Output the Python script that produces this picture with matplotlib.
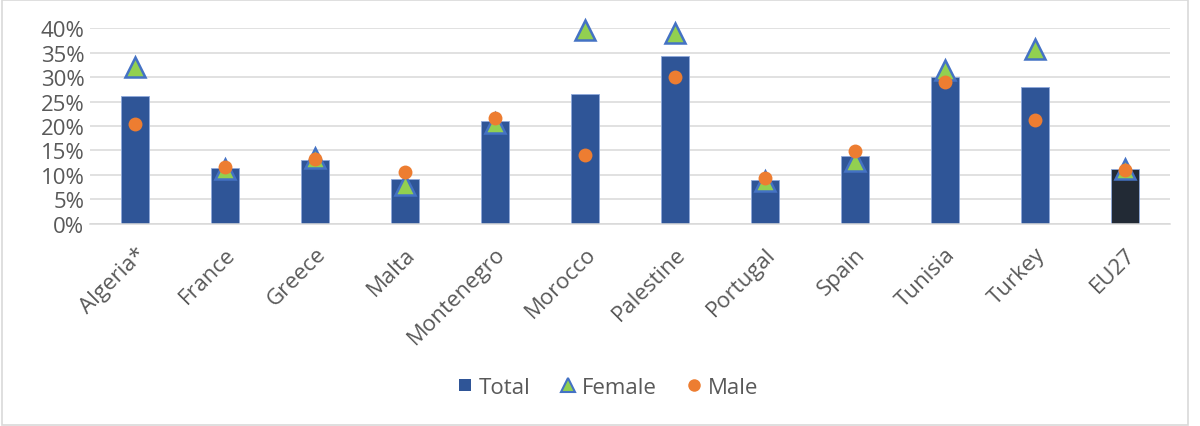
import matplotlib.pyplot as plt
import numpy as np
from matplotlib.patches import Rectangle
from matplotlib.lines import Line2D
from matplotlib.ticker import PercentFormatter

countries = ['Algeria*', 'France', 'Greece', 'Malta', 'Montenegro', 'Morocco',
             'Palestine', 'Portugal', 'Spain', 'Tunisia', 'Turkey', 'EU27']
total = [26.1, 11.3, 13.1, 9.1, 21.0, 26.5, 34.4, 9.0, 13.8, 30.1, 28.1, 11.2]
female = [32.1, 11.1, 13.4, 7.9, 20.6, 39.7, 39.1, 8.8, 12.8, 31.5, 35.7, 11.1]
male = [20.4, 11.7, 13.2, 10.5, 21.6, 14.0, 30.1, 9.3, 14.9, 29.1, 21.3, 11.0]

plt.rcParams['font.family'] = ['Open Sans', 'DejaVu Sans']
txt = '#595959'

fig = plt.figure(figsize=(12, 4.27), dpi=100)
ax = fig.add_axes([0.075, 0.474, 0.9, 0.457])

x = np.arange(len(countries))
colors = ['#2F5597'] * (len(countries) - 1) + ['#222A35']
ax.bar(x, total, width=0.32, color=colors, edgecolor='#8FAADC', linewidth=0.6,
       zorder=2)
ax.plot(x, female, linestyle='none', marker='^', markersize=14,
        markerfacecolor='#92D050', markeredgecolor='#4472C4', markeredgewidth=1.8,
        zorder=3, clip_on=False)
ax.plot(x, male, linestyle='none', marker='o', markersize=10,
        markerfacecolor='#ED7D31', markeredgewidth=0, zorder=4, clip_on=False)

ax.set_xlim(-0.5, len(countries) - 0.5)
ax.set_ylim(0, 40)
ax.set_yticks(np.arange(0, 41, 5))
ax.yaxis.set_major_formatter(PercentFormatter(decimals=0))
ax.grid(axis='y', color='#D9D9D9', linewidth=1.1, zorder=0)
ax.set_axisbelow(True)
for s in ['top', 'right', 'left']:
    ax.spines[s].set_visible(False)
ax.spines['bottom'].set_color('#D9D9D9')
ax.spines['bottom'].set_linewidth(1.1)
ax.tick_params(length=0, labelsize=16, colors=txt)
ax.tick_params(axis='y', pad=4)
ax.tick_params(axis='x', pad=14)
ax.set_xticks(x)
ax.set_xticklabels(countries, rotation=45, ha='right', rotation_mode='anchor')

handles = [
    Line2D([], [], linestyle='none', marker='s', markersize=9,
           markerfacecolor='#2F5597', markeredgewidth=0),
    Line2D([], [], linestyle='none', marker='^', markersize=10,
           markerfacecolor='#92D050', markeredgecolor='#4472C4', markeredgewidth=1.5),
    Line2D([], [], linestyle='none', marker='o', markersize=9,
           markerfacecolor='#ED7D31', markeredgewidth=0),
]
fig.legend(handles, ['Total', 'Female', 'Male'], loc='center',
           bbox_to_anchor=(0.505, 0.091), ncol=3, frameon=False,
           fontsize=16, labelcolor=txt, handletextpad=0.1, columnspacing=1.2,
           handlelength=1.0)

fig.patches.append(Rectangle((0.002, 0.003), 0.988, 0.994, transform=fig.transFigure,
                             fill=False, edgecolor='#D9D9D9', linewidth=1.2))

fig.savefig('out.png', dpi=100)
